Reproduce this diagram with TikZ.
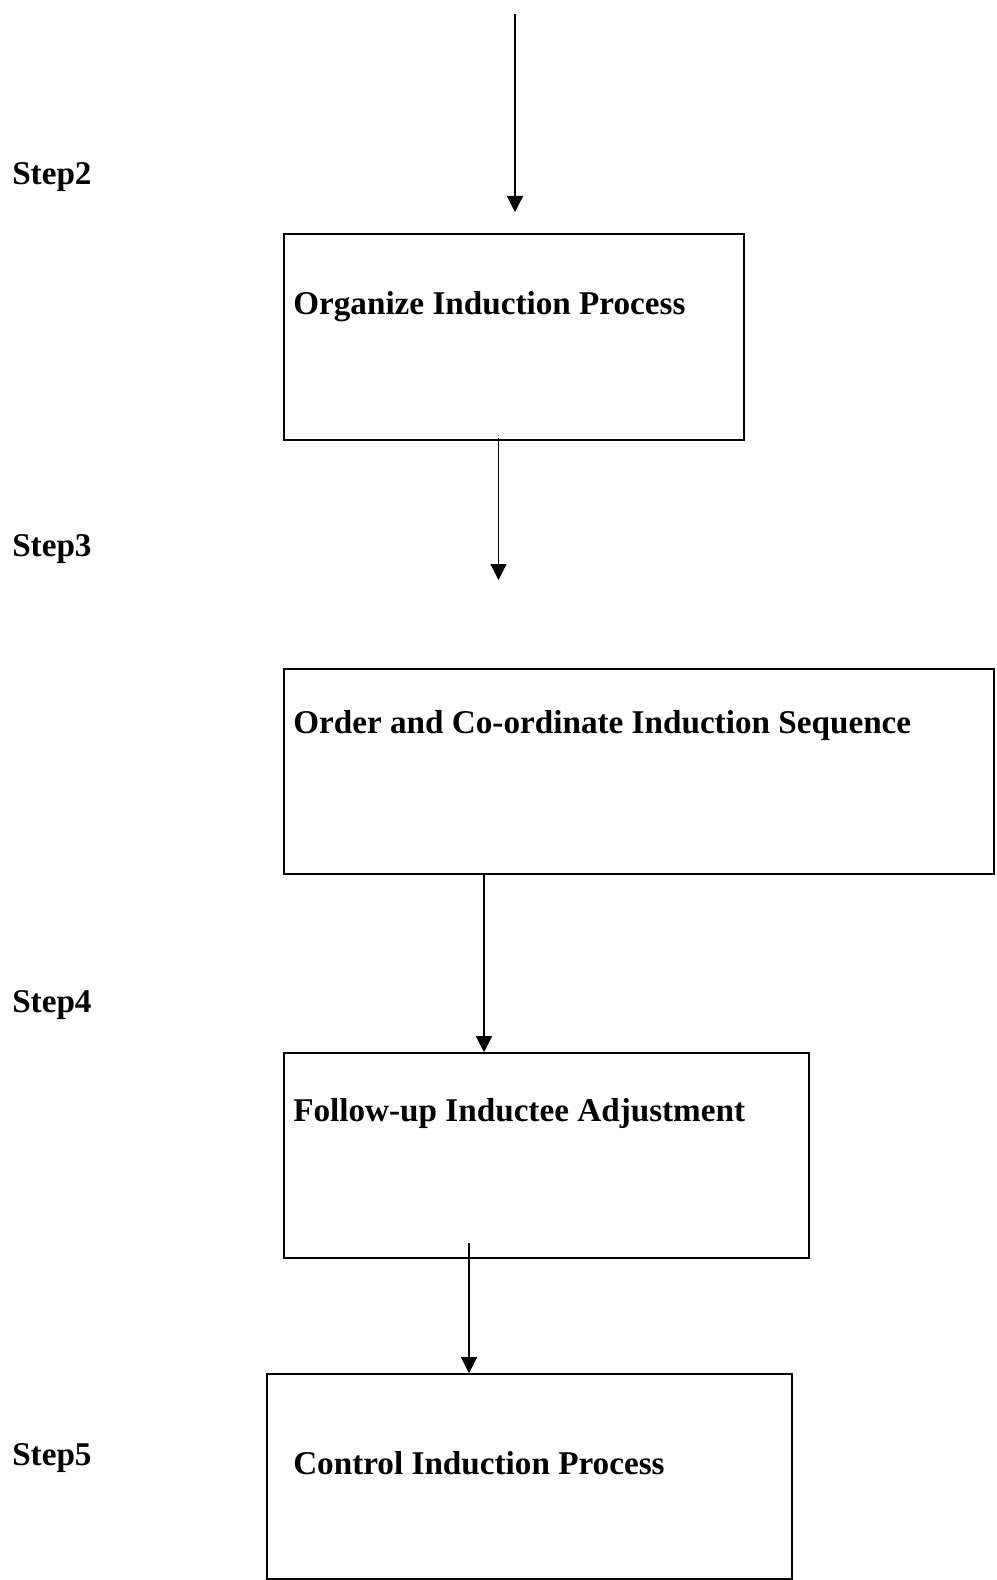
\documentclass[tikz,border=0pt]{standalone}
\usepackage{fontspec}
\setmainfont{Liberation Serif}
\usetikzlibrary{arrows.meta}
\begin{document}
\begin{tikzpicture}[x=0.75pt,y=-0.75pt,
  box/.style={draw, line width=1.2pt, inner sep=0pt, rectangle},
  lbl/.style={anchor=base west, inner sep=0pt, font=\fontsize{24.9}{30}\selectfont\bfseries},
  conn/.style={line width=0.9pt, -{Triangle[width=12pt,length=12pt]}}]
\useasboundingbox (0,0) rectangle (996,1580);
% boxes
\node[box, minimum width=345pt, minimum height=154.5pt] (b1) at (514,337) {};
\node[box, minimum width=532.5pt, minimum height=153.75pt] (b2) at (639,771.5) {};
\node[box, minimum width=393.75pt, minimum height=153.75pt] (b3) at (546.5,1155.5) {};
\node[box, minimum width=393.75pt, minimum height=153.75pt] (b4) at (529.5,1476.5) {};
% box texts
\node[lbl] (t1) at (293,314) {Organize Induction Process};
\node[lbl] (t2) at (293,733) {Order and Co-ordinate Induction Sequence};
\node[lbl] (t3) at (293,1121) {Follow-up Inductee Adjustment};
\node[lbl] (t4) at (293,1474) {Control Induction Process};
% step labels
\node[lbl] (s2) at (12,185) {Step2};
\node[lbl] (s3) at (12,556) {Step3};
\node[lbl] (s4) at (12,1012) {Step4};
\node[lbl] (s5) at (12,1465) {Step5};
% connectors
\coordinate (a1s) at (515,14);
\coordinate (a1e) at (515,212);
\draw[conn] (a1s) -- (a1e);
\coordinate (a2s) at (498.5,438);
\coordinate (a2e) at (498.5,580);
\draw[conn] (a2s) -- (a2e);
\draw[conn] (b2.south -| 484,0) -- (b3.north -| 484,0);
\coordinate (a4s) at (469,1243);
\draw[conn] (a4s) -- (b4.north -| a4s);
\end{tikzpicture}
\end{document}
